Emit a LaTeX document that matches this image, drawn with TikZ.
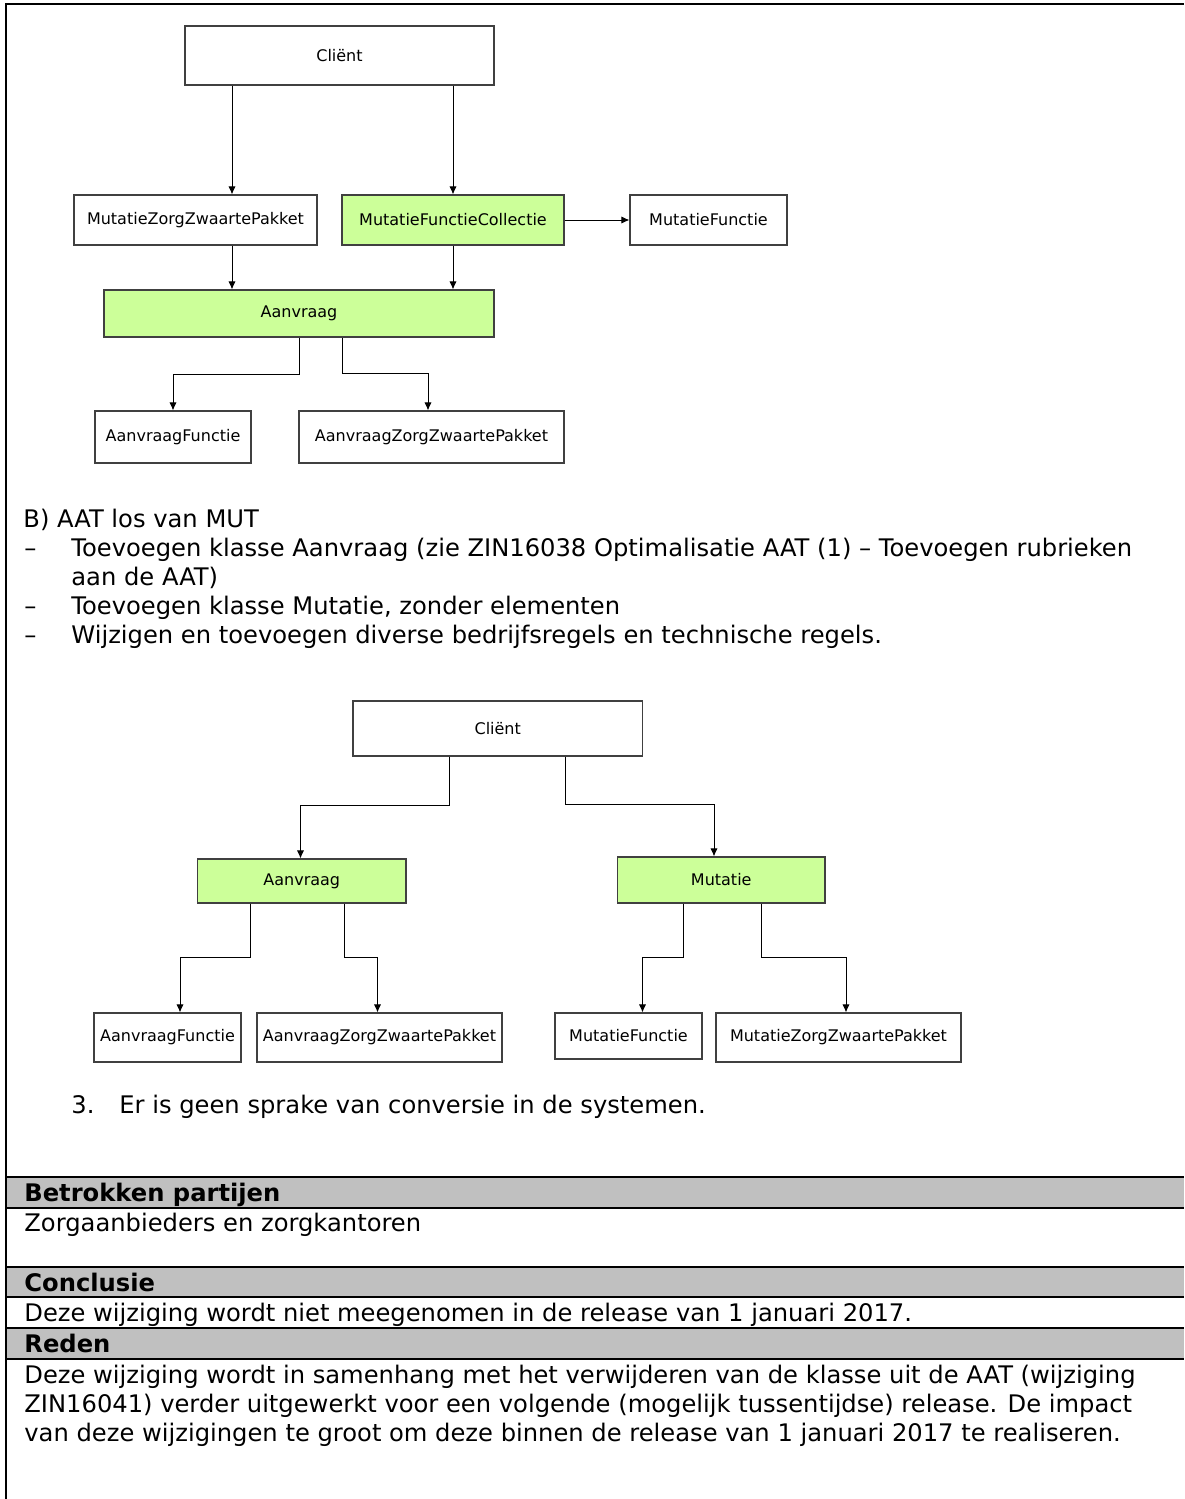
\documentclass[tikz,border=0pt]{standalone}
\usepackage{fontspec}
\setmainfont{DejaVu Sans}
\usetikzlibrary{arrows.meta}

\definecolor{klassegroen}{HTML}{CCFF99}
\definecolor{kaderlijn}{HTML}{404040}
\definecolor{kopgrijs}{HTML}{C0C0C0}
\newcommand{\klassefont}{\fontsize{8}{9.5}\selectfont}
\newcommand{\tekstfont}{\fontsize{12.1}{14.5}\selectfont}

\tikzset{
  klasse/.style={draw=kaderlijn, line width=0.55pt, fill=white, inner sep=0pt, font=\klassefont},
  nieuw/.style={klasse, fill=klassegroen},
  pijl/.style={-{Latex[length=4pt,width=3.6pt]}, line width=0.5pt},
  tekst/.style={anchor=base west, inner sep=0pt, font=\tekstfont},
  kop/.style={tekst, font=\tekstfont\bfseries},
  kader/.style={line width=1pt}
}

\begin{document}
\begin{tikzpicture}[x=0.5pt, y=-0.5pt]
\useasboundingbox[fill=white] (0,0) rectangle (1184,1499);

% kader en kopbalken
\fill[kopgrijs] (6,1177) rectangle (1184,1208);
\fill[kopgrijs] (6,1267) rectangle (1184,1297);
\fill[kopgrijs] (6,1328) rectangle (1184,1359);
\draw[kader] (6,1499) -- (6,4) -- (1184,4);
\foreach \y in {1177,1208,1297,1328} \draw[kader] (6,\y) -- (1184,\y);
\foreach \y in {1267,1359} \draw[line width=0.6pt] (6,\y) -- (1184,\y);

% diagram A
\node[klasse, minimum width=154.5pt, minimum height=29.5pt] (client1) at (339.5,55.5) {Cliënt};
\node[klasse, minimum width=121.5pt, minimum height=25pt] (mzzp1) at (195.5,220) {MutatieZorgZwaartePakket};
\node[nieuw, minimum width=111pt, minimum height=25pt] (mfc1) at (453,220) {MutatieFunctieCollectie};
\node[klasse, minimum width=78.5pt, minimum height=25pt] (mf1) at (708.5,220) {MutatieFunctie};
\node[nieuw, minimum width=195pt, minimum height=23.5pt] (aanvraag1) at (299,313.5) {Aanvraag};
\node[klasse, minimum width=78pt, minimum height=26pt] (af1) at (173,437) {AanvraagFunctie};
\node[klasse, minimum width=132.5pt, minimum height=26pt] (azzp1) at (431.5,437) {AanvraagZorgZwaartePakket};

\draw[pijl] (client1.south -| 232,0) -- (mzzp1.north -| 232,0);
\draw[pijl] (client1.south -| mfc1.north) -- (mfc1.north);
\draw[pijl] (mfc1.east) -- (mf1.west);
\draw[pijl] (mzzp1.south -| 232,0) -- (aanvraag1.north -| 232,0);
\draw[pijl] (mfc1.south) -- (aanvraag1.north -| mfc1.south);
\draw[pijl] (aanvraag1.south) -- ++(0,37) -| (af1.north);
\draw[pijl] (aanvraag1.south -| 342,0) -- ++(0,36) -| (azzp1.north -| 428,0);

%tekst
\node[tekst] (optieB) at (23,527) {B) AAT los van MUT};
\foreach \y in {556,614,643} \node[tekst] at (24,\y) {–};
\node[tekst] (punt1) at (71,556) {Toevoegen klasse Aanvraag (zie ZIN16038 Optimalisatie AAT (1) – Toevoegen rubrieken};
\node[tekst] (punt1b) at (71,585) {aan de AAT)};
\node[tekst] (punt2) at (71,614) {Toevoegen klasse Mutatie, zonder elementen};
\node[tekst] (punt3) at (71,643) {Wijzigen en toevoegen diverse bedrijfsregels en technische regels.};

% diagram B
\node[klasse, minimum width=144.75pt, minimum height=27.5pt] (client2) at (497.75,728.5) {Cliënt};
\node[nieuw, minimum width=104.25pt, minimum height=22pt] (aanvraag2) at (301.75,881) {Aanvraag};
\node[nieuw, minimum width=103.75pt, minimum height=23pt] (mutatie2) at (721.25,880) {Mutatie};
\node[klasse, minimum width=73.5pt, minimum height=24.5pt] (af2) at (167.5,1037.5) {AanvraagFunctie};
\node[klasse, minimum width=122.5pt, minimum height=24.5pt] (azzp2) at (379.5,1037.5) {AanvraagZorgZwaartePakket};
\node[klasse, minimum width=73.5pt, minimum height=23pt] (mf2) at (628.5,1036) {MutatieFunctie};
\node[klasse, minimum width=122.5pt, minimum height=24.5pt] (mzzp2) at (838.5,1037.5) {MutatieZorgZwaartePakket};

\draw[pijl] (client2.south -| 449,0) -- ++(0,49) -| (aanvraag2.north -| 300.5,0);
\draw[pijl] (client2.south -| 565.5,0) -- ++(0,48) -| (mutatie2.north -| 714,0);
\draw[pijl] (aanvraag2.south -| 250.5,0) -- ++(0,54) -| (af2.north -| 180,0);
\draw[pijl] (aanvraag2.south -| 344,0) -- ++(0,54) -| (azzp2.north -| 377.5,0);
\draw[pijl] (mutatie2.south -| 683,0) -- ++(0,54) -| (mf2.north -| 642.5,0);
\draw[pijl] (mutatie2.south -| 761,0) -- ++(0,54) -| (mzzp2.north -| 846,0);

\node[tekst] (nr3) at (71,1113) {3.};
\node[tekst] (conversie) at (119,1113) {Er is geen sprake van conversie in de systemen.};

% partijen, conclusie, reden
\node[kop] (partijen) at (24,1201) {Betrokken partijen};
\node[tekst] (partijentekst) at (24,1231) {Zorgaanbieders en zorgkantoren};
\node[kop] (conclusie) at (24,1291) {Conclusie};
\node[tekst] (conclusietekst) at (24,1321) {Deze wijziging wordt niet meegenomen in de release van 1 januari 2017.};
\node[kop] (reden) at (24,1352) {Reden};
\node[tekst] (reden1) at (24,1383) {Deze wijziging wordt in samenhang met het verwijderen van de klasse uit de AAT (wijziging};
\node[tekst] (reden2) at (24,1412) {ZIN16041) verder uitgewerkt voor een volgende (mogelijk tussentijdse) release. De impact};
\node[tekst] (reden3) at (24,1441) {van deze wijzigingen te groot om deze binnen de release van 1 januari 2017 te realiseren.};

\end{tikzpicture}
\end{document}
